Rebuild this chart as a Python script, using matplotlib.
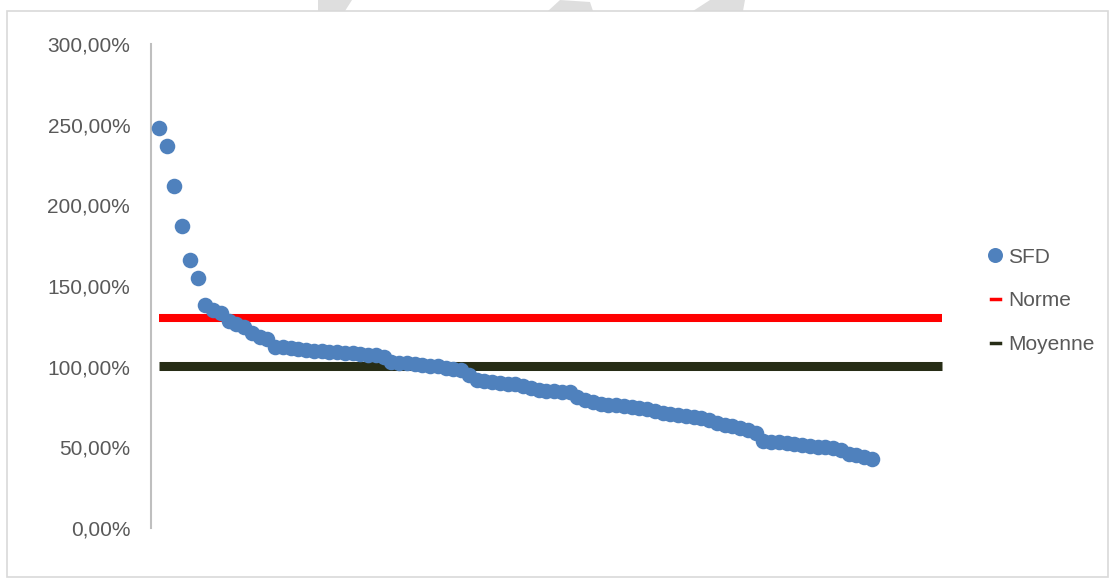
import numpy as np
import matplotlib.pyplot as plt
from matplotlib.patches import Rectangle, Polygon
from matplotlib.lines import Line2D

plt.rcParams['font.family'] = ['Liberation Sans', 'DejaVu Sans']

# SFD values (%), sorted descending
sfd = [248, 237, 212, 187, 166, 155, 138, 135, 133.5, 128,
       126.5, 124.5, 121, 118.5, 117, 112.5, 112, 111.5, 111, 110.5,
       110, 109.5, 109, 108.8, 108.5, 108.3, 108, 107.5, 107, 106,
       103, 102.5, 102, 101.5, 100.8, 100.5, 100.3, 99, 98.5, 98,
       95, 91.5, 91, 90.5, 90, 89.5, 89, 88, 86.5, 85.5,
       85, 84.8, 84.5, 84, 81, 79.5, 78, 77, 76.5, 76,
       75.5, 75, 74.5, 73.5, 72.5, 71, 70.5, 70, 69.5, 69,
       68, 67, 65, 64, 63.5, 62, 61, 59, 54, 53.5,
       53, 52.5, 52, 51.5, 51, 50.5, 50, 49.5, 48.5, 46,
       45, 44, 43]
norme = 130.0
moyenne = 100.5
n_line = 102

x_sfd = np.arange(1, len(sfd) + 1)
x_line = np.arange(1, n_line + 1)

fig = plt.figure(figsize=(11.15, 5.78), dpi=100)

# faint watermark bits above the chart frame
wm = [[(318, 0), (352, 0), (345, 11), (318, 11)],
      [(548, 11), (593, 11), (590, 2), (560, 0)],
      [(693, 11), (743, 11), (745, 0), (710, 0)]]
for pts in wm:
    fig.patches.append(Polygon([(px / 1115, 1 - py / 578) for px, py in pts],
                               closed=True, transform=fig.transFigure,
                               facecolor='#DEDEDE', edgecolor='none', zorder=0))

fig.patches.append(Rectangle((7 / 1115, 1 / 578), 1101 / 1115, 566 / 578,
                             transform=fig.transFigure, facecolor='white',
                             edgecolor='#D9D9D9', linewidth=1.2, zorder=1))

ax = fig.add_axes([151 / 1115, 50 / 578, 814 / 1115, 484 / 578])
ax.set_zorder(2)
ax.patch.set_alpha(0)

ax.plot(x_line, [norme] * n_line, color='#FF0000', linewidth=5.8,
        solid_capstyle='butt', label='Norme', zorder=2)
ax.plot(x_line, [moyenne] * n_line, color='#272D16', linewidth=6.5,
        solid_capstyle='butt', label='Moyenne', zorder=2)
ax.plot(x_sfd, sfd, 'o', color='#4F81BD', markersize=11.2,
        markeredgewidth=0, label='SFD', zorder=3)

ax.set_xlim(0, 105)
ax.set_ylim(0, 300)
ax.set_yticks(np.arange(0, 301, 50))
ax.set_yticklabels([f"{v:.2f}".replace('.', ',') + '%' for v in np.arange(0, 301, 50)])
ax.set_xticks([])
ax.tick_params(axis='y', length=0, pad=15, labelsize=15, labelcolor='#595959')
for s in ['top', 'right', 'bottom']:
    ax.spines[s].set_visible(False)
ax.spines['left'].set_color('#BFBFBF')
ax.spines['left'].set_linewidth(1.5)

handles = [Line2D([], [], marker='o', linestyle='none', color='#4F81BD',
                  markersize=10.8, markeredgewidth=0),
           Line2D([], [], color='#FF0000', linewidth=2.5),
           Line2D([], [], color='#272D16', linewidth=2.5)]
fig.legend(handles, ['SFD', 'Norme', 'Moyenne'], loc='upper left',
           bbox_to_anchor=(972 / 1115, 1 - 229 / 578), frameon=False,
           fontsize=15, labelcolor='#595959', handlelength=0.45,
           handletextpad=0.4, labelspacing=1.18)

fig.savefig('out.png', dpi=100)
